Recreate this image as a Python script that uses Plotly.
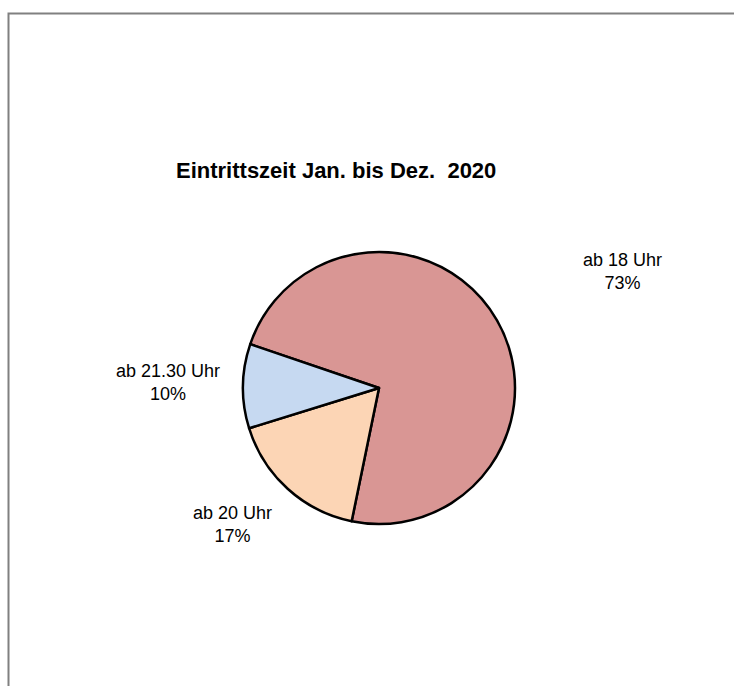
import plotly.graph_objects as go

categories = ["ab 18 Uhr", "ab 20 Uhr", "ab 21.30 Uhr"]
shares = [73, 17, 10]
colors = ["#D99694", "#FCD5B5", "#C6D9F1"]
title_text = "Eintrittszeit Jan. bis Dez.  2020"

W, H = 734, 686
cx, cy, r = 379, 388, 136

fig = go.Figure(go.Pie(
    labels=categories,
    values=shares,
    sort=False,
    direction="clockwise",
    rotation=-71.2,
    marker=dict(colors=colors, line=dict(color="black", width=2.5)),
    textinfo="none",
    hoverinfo="label+percent",
    domain=dict(x=[(cx - r) / W, (cx + r) / W], y=[(H - cy - r) / H, (H - cy + r) / H]),
    showlegend=False,
))

label_pos = {"ab 18 Uhr": (622, 271), "ab 20 Uhr": (232, 524), "ab 21.30 Uhr": (168, 382)}
total = sum(shares)
for cat, val in zip(categories, shares):
    px, py = label_pos[cat]
    fig.add_annotation(
        x=px / W, y=1 - py / H, xref="paper", yref="paper",
        xanchor="center", yanchor="middle",
        text=f"{cat}<br>{round(val / total * 100)}%",
        showarrow=False, align="center",
        font=dict(family="Liberation Sans, Arial, sans-serif", size=18, color="#000000"),
    )

fig.add_annotation(
    x=336 / W, y=1 - 170 / H, xref="paper", yref="paper",
    xanchor="center", yanchor="middle",
    text=f"<b>{title_text}</b>", showarrow=False,
    font=dict(family="Liberation Sans, Arial, sans-serif", size=22, color="#000000"),
)

fig.add_shape(type="rect", xref="paper", yref="paper",
              x0=8.5 / W, x1=1.05, y0=-0.05, y1=1 - 13.5 / H,
              line=dict(color="#808080", width=2), fillcolor="rgba(0,0,0,0)")

fig.update_layout(
    width=W, height=H,
    margin=dict(l=0, r=0, t=0, b=0),
    paper_bgcolor="white", plot_bgcolor="white",
)

fig.write_html("out.html", config={"displayModeBar": False},
               post_script="document.body.style.margin='0';document.body.style.overflow='hidden';")
